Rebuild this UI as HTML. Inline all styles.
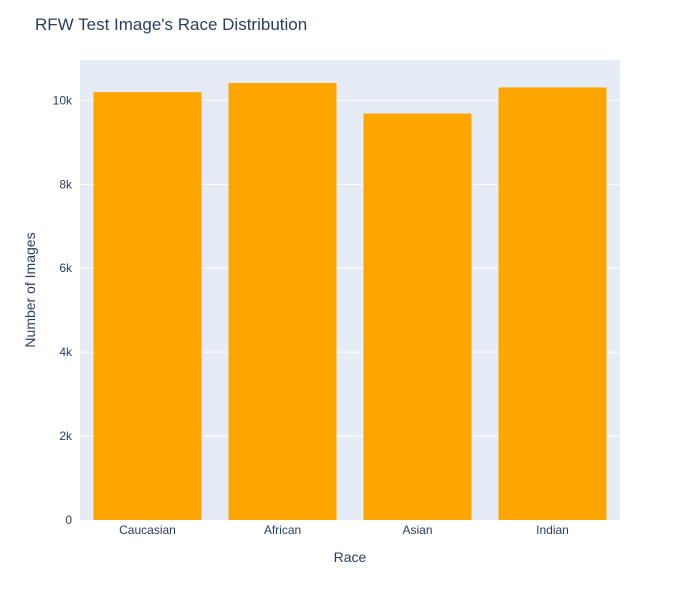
<!DOCTYPE html>
<html><head><meta charset="utf-8"><style>
body{margin:0;background:#fff;font-family:"Liberation Sans",Arial,sans-serif;}
</style></head><body>
<svg width="700" height="600" xmlns="http://www.w3.org/2000/svg">
<rect width="700" height="600" fill="#fff"/>
<text x="35" y="30" font-size="17" fill="#2a3f5f">RFW Test Image's Race Distribution</text>
<rect x="80" y="60" width="540" height="460" fill="#e5ecf6"/>
<g id="grid"></g><g id="bars"></g><g id="ticks"></g>
<text x="350" y="562" font-size="14" fill="#2a3f5f" text-anchor="middle">Race</text>
<text transform="translate(35,290) rotate(-90)" font-size="14" fill="#2a3f5f" text-anchor="middle">Number of Images</text>
</svg>
<script>
const categories=["Caucasian","African","Asian","Indian"];
const values=[10196,10415,9688,10308];
const yTicks=[0,2000,4000,6000,8000,10000];
const yTickLabels=["0","2k","4k","6k","8k","10k"];
const ns="http://www.w3.org/2000/svg";
const x0=80,w=540,yb=520,h=460;
const yMax=Math.max(...values)*1.0526;
const y=v=>yb-v/yMax*h;
const band=w/categories.length;
const x=i=>x0+band*i+band/2;
function mk(t,a,p){const e=document.createElementNS(ns,t);for(const k in a)e.setAttribute(k,a[k]);p.appendChild(e);return e;}
const G=document.getElementById('grid'),B=document.getElementById('bars'),T=document.getElementById('ticks');
yTicks.forEach((v,i)=>{
 if(v>0){const l=mk('line',{x1:x0,x2:x0+w,y1:y(v),y2:y(v),stroke:'#fff','stroke-width':1},G);
 
 }
 const t=mk('text',{x:x0-8,y:y(v)+4,'font-size':12,fill:'#2a3f5f','text-anchor':'end'},T);t.textContent=yTickLabels[i];
 
 
});
categories.forEach((c,i)=>{
 const bw=band*0.8;
 const r=mk('rect',{x:x(i)-bw/2,y:y(values[i]),width:bw,height:yb-y(values[i]),fill:'#ffa500'},B);
 
 
 const t=mk('text',{x:x(i),y:yb+14,'font-size':12,fill:'#2a3f5f','text-anchor':'middle'},T);t.textContent=c;
 
 
});
</script>
</body></html>
